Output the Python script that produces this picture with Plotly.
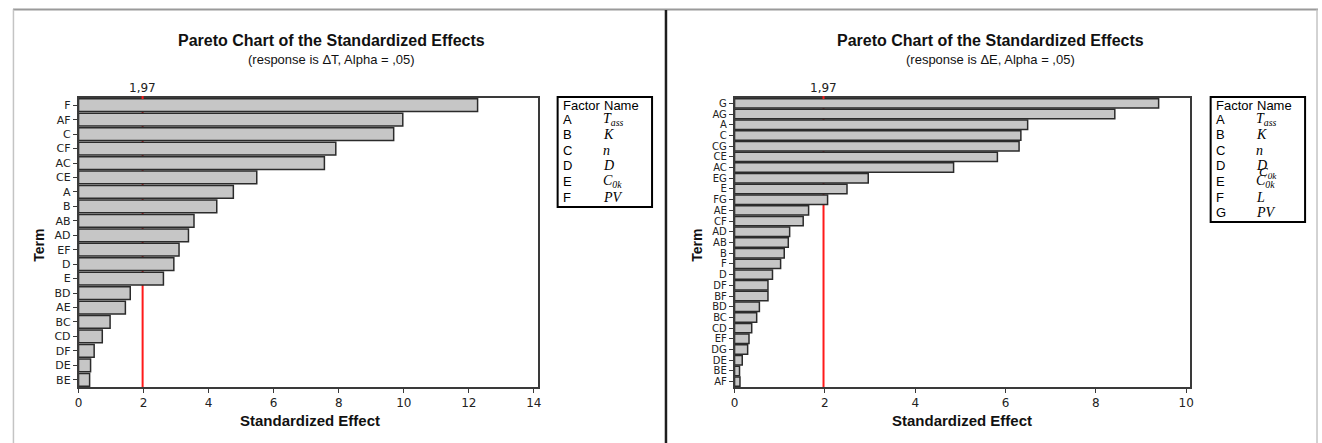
import plotly.graph_objects as go

W, H = 1322, 443

# ---------------- data ----------------
left_terms = ["F", "AF", "C", "CF", "AC", "CE", "A", "B", "AB", "AD", "EF", "D", "E",
              "BD", "AE", "BC", "CD", "DF", "DE", "BE"]
left_effects = [12.27, 9.97, 9.69, 7.91, 7.56, 5.48, 4.76, 4.25, 3.55, 3.38, 3.09, 2.93, 2.61,
                1.59, 1.44, 0.97, 0.73, 0.48, 0.37, 0.34]

right_terms = ["G", "AG", "A", "C", "CG", "CE", "AC", "EG", "E", "FG", "AE", "CF", "AD", "AB",
               "B", "F", "D", "DF", "BF", "BD", "BC", "CD", "EF", "DG", "DE", "BE", "AF"]
right_effects = [9.39, 8.42, 6.49, 6.34, 6.30, 5.82, 4.85, 2.96, 2.49, 2.06, 1.64, 1.52, 1.22, 1.19,
                 1.10, 1.02, 0.84, 0.74, 0.74, 0.55, 0.49, 0.38, 0.32, 0.29, 0.17, 0.11, 0.12]

critical_value = 1.97
critical_label = "1,97"

left_subtitle = "(response is ΔT, Alpha = ,05)"
right_subtitle = "(response is ΔE, Alpha = ,05)"
chart_title = "Pareto Chart of the Standardized Effects"

left_factors = ["A", "B", "C", "D", "E", "F"]
left_names = ["T<sub>ass</sub>", "K", "n", "D", "C<sub>0k</sub>", "PV"]
right_factors = ["A", "B", "C", "D", "E", "F", "G"]
right_names = ["T<sub>ass</sub>", "K", "n", "D", "C<sub>0k</sub>", "L", "PV"]

left_xticks = [0, 2, 4, 6, 8, 10, 12, 14]
right_xticks = [0, 2, 4, 6, 8, 10]


def fx(px):
    return px / W


def fy(py):
    return 1 - py / H


fig = go.Figure()

BAR_FILL = "#c6c6c6"
BAR_LINE = "#2b2b2b"

fig.add_trace(go.Bar(x=left_effects, y=left_terms, orientation="h",
                     marker=dict(color=BAR_FILL, line=dict(color=BAR_LINE, width=1.5)),
                     xaxis="x", yaxis="y", showlegend=False))
fig.add_trace(go.Bar(x=right_effects, y=right_terms, orientation="h",
                     marker=dict(color=BAR_FILL, line=dict(color=BAR_LINE, width=1.5)),
                     xaxis="x2", yaxis="y2", showlegend=False))

PLOT_TOP, PLOT_BOT = 98, 387
L_X0, L_X1 = 75, 537
R_X0, R_X1 = 735, 1193

axis_common = dict(showline=True, mirror=True, linecolor="#3a3a3a", linewidth=1.5,
                   showgrid=False, zeroline=False, ticks="outside", ticklen=4,
                   tickcolor="#3a3a3a", tickwidth=1)

fig.update_layout(
    width=W, height=H,
    margin=dict(l=0, r=0, t=0, b=0),
    paper_bgcolor="white", plot_bgcolor="white",
    bargap=0.12,
    xaxis=dict(domain=[fx(L_X0), fx(L_X1)], range=[0, 14.12], anchor="y",
               tickmode="array", tickvals=left_xticks, ticktext=[str(v) for v in left_xticks],
               tickfont=dict(family="DejaVu Sans", size=12, color="#222"), **axis_common),
    yaxis=dict(domain=[fy(PLOT_BOT), fy(PLOT_TOP)], anchor="x",
               categoryorder="array", categoryarray=left_terms, autorange="reversed",
               tickmode="array", tickvals=left_terms, ticktext=left_terms,
               tickfont=dict(family="DejaVu Sans", size=11, color="#222"), **axis_common),
    xaxis2=dict(domain=[fx(R_X0), fx(R_X1)], range=[0, 10.08], anchor="y2",
                tickmode="array", tickvals=right_xticks, ticktext=[str(v) for v in right_xticks],
                tickfont=dict(family="DejaVu Sans", size=12, color="#222"), **axis_common),
    yaxis2=dict(domain=[fy(PLOT_BOT), fy(PLOT_TOP)], anchor="x2",
                categoryorder="array", categoryarray=right_terms, autorange="reversed",
                tickmode="array", tickvals=right_terms, ticktext=right_terms,
                tickfont=dict(family="DejaVu Sans", size=10, color="#222"), **axis_common),
)

shapes = []
# frame lines
shapes.append(dict(type="line", xref="paper", yref="paper", x0=fx(9), x1=1, y0=fy(9.5), y1=fy(9.5),
                   line=dict(color="#9a9a9a", width=2)))
shapes.append(dict(type="line", xref="paper", yref="paper", x0=fx(9.5), x1=fx(9.5), y0=0, y1=fy(9.5),
                   line=dict(color="#c4c4c4", width=1.5)))
shapes.append(dict(type="line", xref="paper", yref="paper", x0=fx(1321), x1=fx(1321), y0=0, y1=fy(9.5),
                   line=dict(color="#c4c4c4", width=1.5)))
shapes.append(dict(type="line", xref="paper", yref="paper", x0=fx(666), x1=fx(666), y0=0, y1=fy(10),
                   line=dict(color="#1e1e1e", width=2.5)))

# reference lines
for xa, ya in (("x", "y"), ("x2", "y2")):
    shapes.append(dict(type="line", xref=xa, yref=ya + " domain", x0=critical_value, x1=critical_value,
                       y0=0, y1=1, layer="below", line=dict(color="#ff1a1a", width=2)))
    shapes.append(dict(type="line", xref=xa, yref="paper", x0=critical_value, x1=critical_value,
                       y0=fy(PLOT_TOP + 1), y1=fy(PLOT_TOP - 2), line=dict(color="#ff1a1a", width=2)))

# legend boxes
shapes.append(dict(type="rect", xref="paper", yref="paper", x0=fx(557), x1=fx(652), y0=fy(207), y1=fy(97),
                   line=dict(color="black", width=2)))
shapes.append(dict(type="rect", xref="paper", yref="paper", x0=fx(1214), x1=fx(1309), y0=fy(222), y1=fy(97),
                   line=dict(color="black", width=2)))

annotations = []


def text(x, y, s, size, bold=False, family="Liberation Sans", xanchor="center", angle=0, color="#111"):
    annotations.append(dict(xref="paper", yref="paper", x=fx(x), y=fy(y), text=s, showarrow=False,
                            xanchor=xanchor, yanchor="middle", textangle=angle,
                            font=dict(family=family, size=size, color=color,
                                      weight="bold" if bold else "normal")))


for cx, sub in ((329, left_subtitle), (993, right_subtitle)):
    text(cx, 41, chart_title, 16, bold=True)
    text(cx, 60, sub, 13)

text(308, 420, "Standardized Effect", 15, bold=True)
text(964, 420, "Standardized Effect", 15, bold=True)
text(35, 245, "Term", 14, bold=True, angle=-90)
text(697, 245, "Term", 14, bold=True, angle=-90)

for xa in ("x", "x2"):
    annotations.append(dict(xref=xa, yref="paper", x=critical_value, y=fy(88), text=critical_label,
                            showarrow=False, xanchor="center", yanchor="middle",
                            font=dict(family="DejaVu Sans", size=12, color="#222")))


def legend_box(bx, factors, names):
    text(bx + 3, 105, "Factor", 13, xanchor="left", family="Liberation Sans", color="black")
    text(bx + 45, 105, "Name", 13, xanchor="left", family="Liberation Sans", color="black")
    for i, (f, n) in enumerate(zip(factors, names)):
        y = 119 + i * 15.6
        text(bx + 3, y, f, 13, xanchor="left", family="Liberation Sans", color="black")
        text(bx + 44, y, "<i>" + n + "</i>", 14, xanchor="left", family="Liberation Serif", color="black")


legend_box(557, left_factors, left_names)
legend_box(1214, right_factors, right_names)
# overlapping glyph artefact seen in the right legend
text(1261, 172, "<i>C<sub>0k</sub></i>", 13, xanchor="left", family="Liberation Serif", color="black")

fig.update_layout(shapes=shapes, annotations=annotations)

fig.write_html("out.html")
